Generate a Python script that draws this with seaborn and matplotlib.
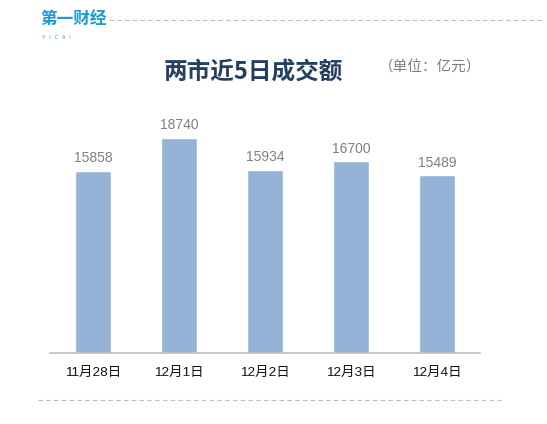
import matplotlib
matplotlib.use("Agg")
import matplotlib.pyplot as plt
from matplotlib.lines import Line2D
import seaborn as sns

# data
dates = ['11月28日', '12月1日', '12月2日', '12月3日', '12月4日']
volumes = [15858, 18740, 15934, 16700, 15489]

title = '两市近5日成交额'
unit = '（单位：亿元）'

sns.set_style('white')
plt.rcParams['font.family'] = ['Liberation Sans', 'Noto Sans CJK SC', 'DejaVu Sans']

fig = plt.figure(figsize=(5.47, 4.24), dpi=100)
ax = fig.add_axes([0.0914, 0.1675, 0.786, 0.596])

sns.barplot(x=dates, y=volumes, color='#95B3D7', saturation=1, width=0.41, ax=ax)
ax.set_xlim(-0.5, 4.5)
ax.set_ylim(0, 22000)

ax.bar_label(ax.containers[0], fmt='%d', padding=4, fontsize=10, color='#7f7f7f')

# axis styling
for s in ['top', 'right', 'left']:
    ax.spines[s].set_visible(False)
ax.spines['bottom'].set_color('#bfbfbf')
ax.spines['bottom'].set_linewidth(1.2)
ax.set_yticks([])
ax.tick_params(axis='x', length=0, pad=10, labelsize=9.7, labelcolor='#111111')
ax.set_xlabel('')
ax.set_ylabel('')

# title and unit
fig.text(0.463, 0.83, title, ha='center', va='center', fontsize=17,
         fontweight='bold', color='#243F60', family=['Noto Sans CJK SC'])
fig.text(0.787, 0.84, unit, ha='center', va='center', fontsize=10.5,
         color='#7f7f7f', family=['Noto Sans CJK SC'])

# logo
fig.text(0.073, 0.955, '第一财经', ha='left', va='center', fontsize=12,
         fontweight='bold', color='#1a9ad6', family=['Noto Sans CJK SC'])
fig.text(0.077, 0.912, 'Y   I   C   A   I', ha='left', va='center', fontsize=3.5,
         color='#1a9ad6')

# dashed separators
fig.add_artist(Line2D([0.2, 0.995], [0.953, 0.953], transform=fig.transFigure,
                      color='#bfbfbf', lw=0.8, ls=(0, (4, 3))))
fig.add_artist(Line2D([0.07, 0.915], [0.057, 0.057], transform=fig.transFigure,
                      color='#bfbfbf', lw=0.8, ls=(0, (4, 3))))

fig.savefig('out.png', dpi=100)
